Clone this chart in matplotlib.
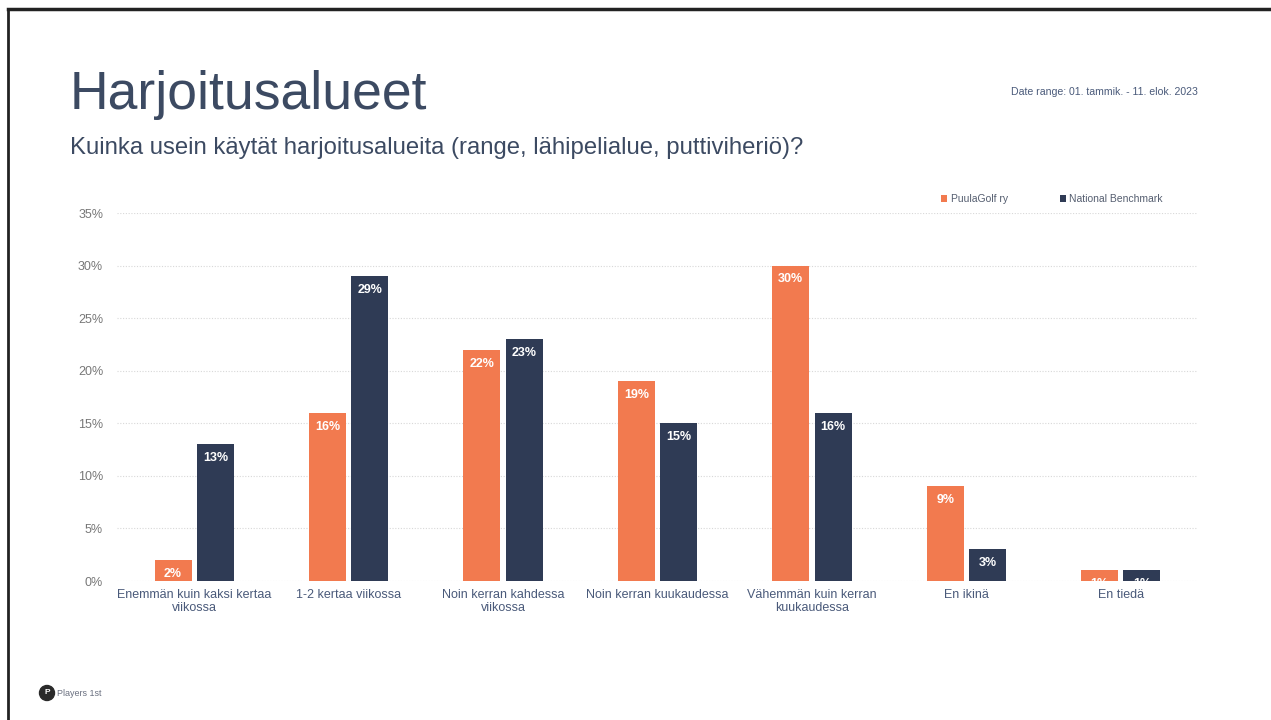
import matplotlib.pyplot as plt
from matplotlib.lines import Line2D
from matplotlib.patches import Ellipse
import numpy as np

plt.rcParams['font.family'] = ['Liberation Sans', 'DejaVu Sans']

# Data
categories = ["Enemmän kuin kaksi kertaa\nviikossa", "1-2 kertaa viikossa",
              "Noin kerran kahdessa\nviikossa", "Noin kerran kuukaudessa",
              "Vähemmän kuin kerran\nkuukaudessa", "En ikinä", "En tiedä"]
puula = [2, 16, 22, 19, 30, 9, 1]
national = [13, 29, 23, 15, 16, 3, 1]
series_names = ["PuulaGolf ry", "National Benchmark"]
yticks = [0, 5, 10, 15, 20, 25, 30, 35]

orange = "#f27a4f"
navy = "#2f3b55"
title_col = "#3c4a62"
label_col = "#4a5a7a"

W, H = 1271, 720
fig = plt.figure(figsize=(W / 100, H / 100), dpi=100)
fig.patch.set_facecolor("white")

ax = fig.add_axes([117 / W, 1 - 581 / H, (1198 - 117) / W, (581 - 213) / H])
x = np.arange(len(categories))
bw = 0.24
off = 0.137
b1 = ax.bar(x - off, puula, bw, color=orange, label=series_names[0], zorder=3)
b2 = ax.bar(x + off, national, bw, color=navy, label=series_names[1], zorder=3)

for bars, vals in ((b1, puula), (b2, national)):
    for rect, v in zip(bars, vals):
        ax.annotate(f"{v}%", (rect.get_x() + rect.get_width() / 2, v),
                    xytext=(0, -10), textcoords="offset points",
                    ha="center", va="center", color="white",
                    fontsize=9, fontweight="bold", zorder=4)

ax.set_xlim(-0.5, len(categories) - 0.5)
ax.set_ylim(0, 35)
ax.set_yticks(yticks)
ax.set_yticklabels([f"{t}%" for t in yticks])
ax.set_xticks(x)
ax.set_xticklabels(categories, color=label_col, fontsize=9, linespacing=1.1)
ax.tick_params(axis="y", colors="#777777", labelsize=9, length=0, pad=10)
ax.tick_params(axis="x", length=0, pad=6)
ax.grid(axis="y", color="#d8d8d8", linestyle=(0, (1, 1.5)), linewidth=0.8, zorder=0)
for s in ax.spines.values():
    s.set_visible(False)

leg = ax.legend(loc="upper right", bbox_to_anchor=(1172 / W, 1 - 185 / H),
                bbox_transform=fig.transFigure, ncol=2, frameon=False,
                fontsize=7.5, handlelength=0.6, handleheight=0.6,
                handletextpad=0.3, columnspacing=5.0, labelcolor="#555e70")

fig.text(70 / W, 1 - 95 / H, "Harjoitusalueet", fontsize=38.5, color=title_col,
         ha="left", va="center")
fig.text(70 / W, 1 - 148 / H,
         "Kuinka usein käytät harjoitusalueita (range, lähipelialue, puttiviheriö)?",
         fontsize=17.2, color=title_col, ha="left", va="center")
fig.text(1198 / W, 1 - 92 / H, "Date range: 01. tammik. - 11. elok. 2023",
         fontsize=7.6, color=label_col, ha="right", va="center")

# footer logo
fig.add_artist(Ellipse((47 / W, 1 - 693 / H), 15 / W, 15 / H,
                       transform=fig.transFigure, color="#2a2a2a"))
fig.text(47 / W, 1 - 693 / H, "P", fontsize=6, color="white", fontweight="bold",
         ha="center", va="center")
fig.text(57 / W, 1 - 693 / H, "Players 1st", fontsize=6.5, color="#6a7080",
         ha="left", va="center")

# scanned page border
fig.add_artist(Line2D([8 / W, 1], [1 - 9 / H, 1 - 9 / H], transform=fig.transFigure,
                      color="#222222", linewidth=2.5))
fig.add_artist(Line2D([8 / W, 8 / W], [0, 1 - 9 / H], transform=fig.transFigure,
                      color="#222222", linewidth=2))

fig.savefig("out.png", dpi=100)
